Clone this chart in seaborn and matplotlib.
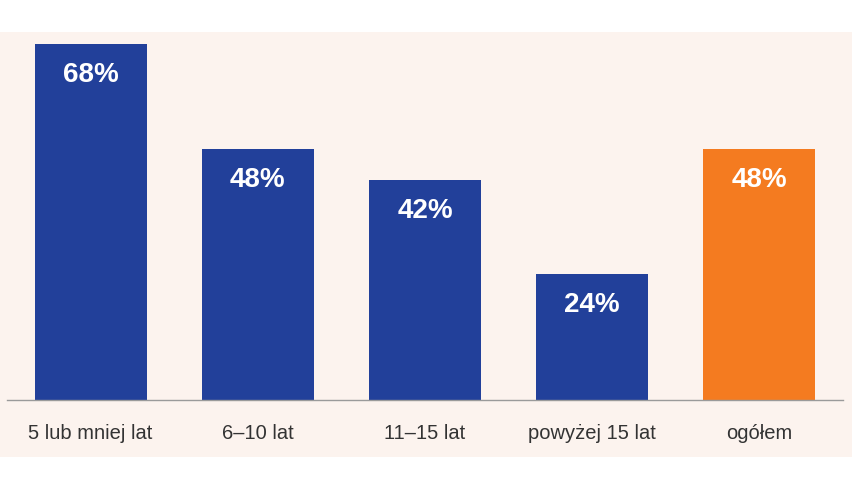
import matplotlib
matplotlib.use("Agg")
import matplotlib.pyplot as plt
import seaborn as sns
import pandas as pd
from matplotlib.patches import Rectangle

# data
categories = ["5 lub mniej lat", "6–10 lat", "11–15 lat", "powyżej 15 lat", "ogółem"]
values = [68, 48, 42, 24, 48]
bar_colors = ["#22409A", "#22409A", "#22409A", "#22409A", "#F47B20"]

bg = "#FCF3EE"

sns.set_style("white")
plt.rcParams["font.family"] = ["Liberation Sans", "DejaVu Sans"]

fig = plt.figure(figsize=(8.53, 4.8), dpi=100)
fig.patch.set_facecolor("white")
# peach band behind the chart
fig.patches.append(Rectangle((0, 0.048), 1, 0.885, transform=fig.transFigure,
                             facecolor=bg, edgecolor="none", zorder=-10))

ax = fig.add_axes([7 / 853, 80 / 480, 836 / 853, 356 / 480])
ax.set_facecolor("none")
ax.set_zorder(1)

df = pd.DataFrame({"cat": categories, "val": values})
sns.barplot(data=df, x="cat", y="val", hue="cat", palette=bar_colors,
            legend=False, width=0.67, saturation=1, linewidth=0, ax=ax)

ax.set_xlim(-0.5, 4.5)
ax.set_ylim(0, 68)

for i, v in enumerate(values):
    ax.annotate(f"{v}%", (i, v), xytext=(0, -31), textcoords="offset pixels",
                ha="center", va="center", color="white", fontsize=20,
                fontweight="bold")

for s in ["top", "right", "left"]:
    ax.spines[s].set_visible(False)
ax.spines["bottom"].set_color("#9a9a9a")
ax.spines["bottom"].set_linewidth(1)
ax.set_yticks([])
ax.set_xlabel("")
ax.set_ylabel("")
ax.tick_params(axis="x", length=0, pad=17, labelsize=14.5, labelcolor="#333333")

fig.savefig("out.png", dpi=100, facecolor=fig.get_facecolor())
